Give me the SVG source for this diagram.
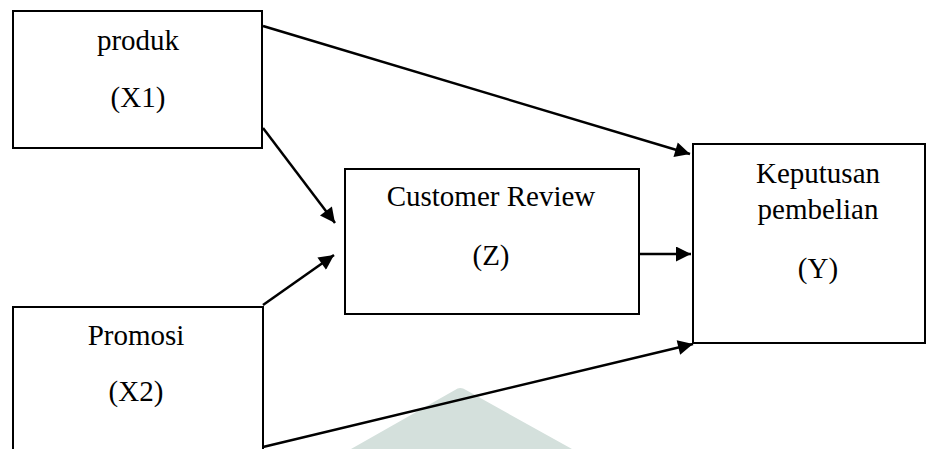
<svg xmlns="http://www.w3.org/2000/svg" width="934" height="449" viewBox="0 0 934 449">
  <defs>
    <marker id="head" viewBox="0 0 10 10" refX="10" refY="5" markerWidth="6.5" markerHeight="6" markerUnits="strokeWidth" orient="auto">
      <path d="M0,0 L10,5 L0,10 z" fill="#000"/>
    </marker>
    <style>
      .box { fill: #fff; stroke: #000; stroke-width: 2; }
      .lbl { font-family: "Liberation Serif", "Times New Roman", serif; font-size: 29px; fill: #000; text-anchor: middle; }
      .edge { fill: none; stroke: #000; stroke-width: 2.5; marker-end: url(#head); }
    </style>
  </defs>
  <rect width="934" height="449" fill="#fff"/>

  <!-- faint background mark -->
  <path d="M351,449 L455,390 Q460,386 466,390 L572,449 Z" fill="#d4e0dc"/>

  <g id="connectors">
    <line class="edge" x1="263" y1="26" x2="690" y2="154"/>
    <line class="edge" x1="263" y1="128" x2="335" y2="223"/>
    <line class="edge" x1="263" y1="305" x2="334" y2="255"/>
    <line class="edge" x1="639" y1="254" x2="691" y2="254"/>
    <line class="edge" x1="263" y1="447" x2="693" y2="344"/>
  </g>

  <g id="node-x1">
    <rect class="box" x="13" y="11" width="249" height="137"/>
    <text class="lbl" x="138" y="50">produk</text>
    <text class="lbl" x="138" y="107">(X1)</text>
  </g>

  <g id="node-x2">
    <rect class="box" x="13" y="307" width="250" height="145"/>
    <text class="lbl" x="136" y="345">Promosi</text>
    <text class="lbl" x="136" y="401">(X2)</text>
  </g>

  <g id="node-z">
    <rect class="box" x="345" y="169" width="294" height="145"/>
    <text class="lbl" x="491" y="206">Customer Review</text>
    <text class="lbl" x="491" y="265">(Z)</text>
  </g>

  <g id="node-y">
    <rect class="box" x="693" y="144" width="232" height="199"/>
    <text class="lbl" x="818" y="183">Keputusan</text>
    <text class="lbl" x="818" y="219">pembelian</text>
    <text class="lbl" x="818" y="278">(Y)</text>
  </g>
</svg>
